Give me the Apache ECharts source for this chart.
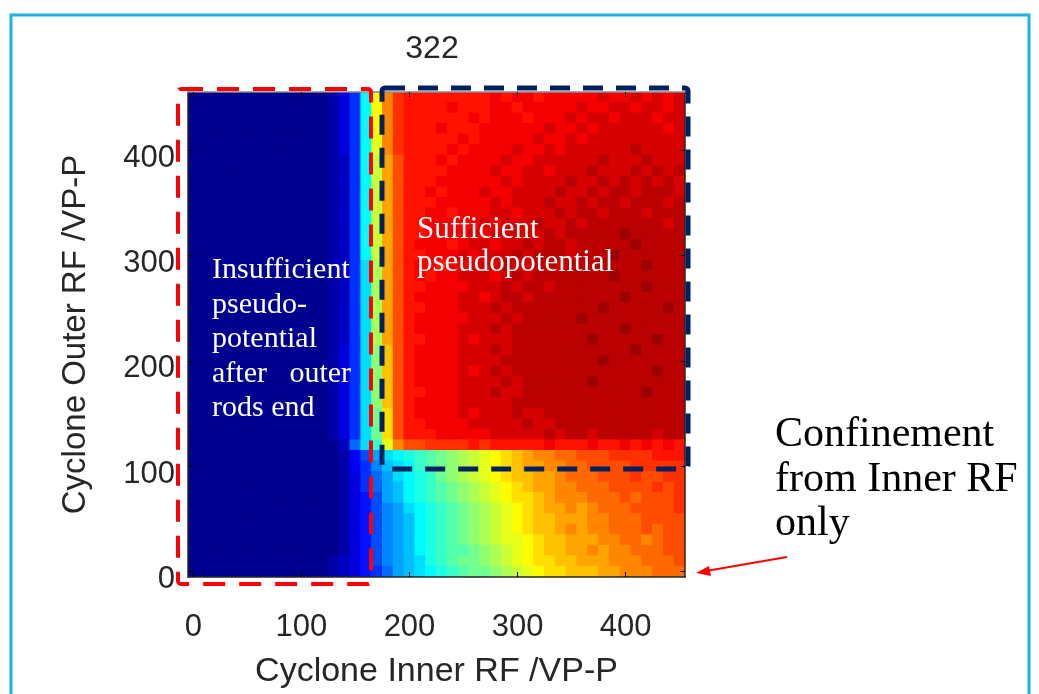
<!DOCTYPE html>
<html>
<head>
<meta charset="utf-8">
<script src="https://cdn.jsdelivr.net/npm/echarts@6/dist/echarts.min.js"></script>
<style>
  html, body { margin: 0; padding: 0; background: #fff; }
  #chart { width: 1039px; height: 694px; }
</style>
</head>
<body>
<div id="chart"></div>
<script>
// axis categories (cell centres, 10 V steps)
const xCats = ['0','10','20','30','40','50','60','70','80','90','100','110','120','130','140','150','160','170','180','190','200','210','220','230','240','250','260','270','280','290','300','310','320','330','340','350','360','370','380','390','400','410','420','430','440','450'];
const yCats = ['0','10','20','30','40','50','60','70','80','90','100','110','120','130','140','150','160','170','180','190','200','210','220','230','240','250','260','270','280','290','300','310','320','330','340','350','360','370','380','390','400','410','420','430','440','450'];
const xTickLabels = ['0', '100', '200', '300', '400'];
const yTickLabels = ['0', '100', '200', '300', '400'];

// read-off colour levels, one char per cell, base 36 (0 = min .. z = max)
// first string = top row (outer 450), last = bottom row (outer 0)
const gridRows = [
  '0000000000000136dmqtuuuuuuuuvuvvuvvvvvwvvwvwvw',
  '0000000000000136dmqtuuuuvuuuvvuvvvvvwvvwwvwwvw',
  '0000000000000136dmqtuuuuuuvuvvvuvvvwvwwvwwwvww',
  '0000000000000136dmqtuuuvuuuvvvvvvwvvwvwwwwwwvw',
  '0000000000000136dlqtuuuuuvuvvvvvwvvwvwwwwwwwww',
  '0000000000000136dlqtuuuuvuvvvvwvvwvwwwwwwxwwww',
  '0000000000000126dkpsuuuvuvvvvwvvwwwwwwxwwwxwww',
  '0000000000000126dkpsuuuuvvvvwvvwwvwwwxwwwxwxwx',
  '0000000000000126dkpsuuuvvvvvvwvwwwwxwwxwxwxwxw',
  '0000000000000126dkpsuuvuvvvwvvwwwwxwwxwxxwxxxw',
  '0000000000000126dkpsuuuvvvvvwvwwwxwwxwxxwxxxwx',
  '0000000000000126dkpsuuvvuvvvwwvwwwxwxxwxxxwxxx',
  '0000000000000126dkpsuuvvvvvwvwwwxwwxwxxxxxxxwx',
  '0000000000000126dkpsuuvvvvwvwwwwwxwxxxxxyxxxxx',
  '0000000000000126dkpsuvvvuvwwvwwxwxxwxxxxxyxxxx',
  '0000000000000126dkpsuuvvvwvwwwxwxxxwxxxyxxxxxx',
  '0000000000000126cjpsuvvuvvwwwxwwxxwxxxxxxxyxxx',
  '0000000000000126cjpsuvuvvwwwvwxwxxxxxxxyxxxxxx',
  '0000000000000126cjpsuuvvvvwwwxwxxwxxxxxxxxyxxx',
  '0000000000000126cjpsuvvvvwwvwxxwxxxxxxxxyxxxxx',
  '0000000000000126cjpsuuvvvwwwxwxxxxxxxxyxxxxxyx',
  '0000000000000126cjpsuvvvvvwwwxwxxxxxyxxxxxxxxx',
  '0000000000000126cjpsuvvvvwwwxwxxxxxxxxxxyxxxxx',
  '0000000000000126cjpsuuvvvwvwwwxxxxxxxyxxxxxyxx',
  '0000000000000136ciosuvvvvwwwxwxxxxxxxxxxxyxxxx',
  '0000000000000136ciosuvvvvwwwwxxxxxxxxxyxxxxxxx',
  '0000000000000136ciosuvvvvwvwxwxxxxxxxxxxxxxyxx',
  '0000000000000136ciosuvvvvwwwwxwxxxxxxyxxxxxxxx',
  '0000000000000136ciosuuvvvwwwxwwxxxxxxxxxxxyxxx',
  '0000000000000136ciosuvvvvwwwwwxxxxxxxxxxxxxxxx',
  '0000000000000136chnsuvvvvwvwwwxwwxxxxxxxxxxxxx',
  '0000000000000136chnsuuvvvvwwwwwxwwxxxxxxxxxxxx',
  '0000000000000136chnsuuuvvvvvwwwwwxwxxwxxxxxwxx',
  '0000000000000028cflqssttttutuuuuuvuuuvuuvuvuvu',
  '00000000000000147acdefghijklmnopqqrrsssttttuuu',
  '000000000000001469bcdfghijklmnoppqqrrssssttttt',
  '000000000000001368acdefhijklmnooppqrrrssstsstt',
  '000000000000001368abdefghijklmnoppqqrrrsssstst',
  '000000000000001357abdefghijklmnnopqqqrrrsrssst',
  '0000000000000013579acdefghijklmnoppqpqrrrsssst',
  '0000000000000013579abdefghijklmnoopppqqrrrssss',
  '0000000000000013579abdefghijklmnoopqpqqrrrsrss',
  '0000000000000013579abdefghijkllmnoopppqqrrqrss',
  '0000000000000013579abdefgghijklmnooppqpqqrrrss',
  '0000000000000123579abcefghhijklmnnoopppqqqrrrs',
  '0000000000000123568abcdefghhijklmnnoooppqqqrrr'
];

// jet colormap stops
const jet = ['#00008f', '#0000ff', '#0080ff', '#00ffff', '#80ff80', '#ffff00', '#ff8000', '#ff0000', '#800000'];

const cells = [];
gridRows.forEach((row, r) => {
  if (row.length !== xCats.length) throw new Error('row ' + r + ' has ' + row.length + ' cells');
  const yi = gridRows.length - 1 - r;
  for (let xi = 0; xi < row.length; xi++) {
    cells.push([xi, yi, parseInt(row[xi], 36)]);
  }
});

const sans = '"Liberation Sans", Arial, sans-serif';
const serif = '"Liberation Serif", "Times New Roman", serif';
const frame = { color: '#262626', width: 1.5 };
const isXTick = (i, v) => xTickLabels.includes(v);
const isYTick = (i, v) => yTickLabels.includes(v);

// one rect per cell, grown by half a pixel so neighbours leave no seams
function renderCell(params, api) {
  const c = api.coord([api.value(0), api.value(1)]);
  const s = api.size([1, 1]);
  return {
    type: 'rect',
    shape: { x: c[0] - s[0] / 2 - 0.5, y: c[1] - s[1] / 2 - 0.5, width: s[0] + 1, height: s[1] + 1 },
    style: { fill: api.visual('color') }
  };
}

const chart = echarts.init(document.getElementById('chart'));
chart.setOption({
  animation: false,
  backgroundColor: '#fff',
  grid: { left: 188, top: 92, width: 497, height: 485 },
  visualMap: {
    type: 'continuous', show: false, min: 0, max: 35, dimension: 2, seriesIndex: 0,
    inRange: { color: jet }
  },
  xAxis: [
    {
      type: 'category', data: xCats, position: 'bottom', z: 10,
      axisLine: { show: true, lineStyle: frame },
      axisTick: { show: true, inside: true, length: 5, interval: isXTick, alignWithLabel: true, lineStyle: { color: '#000' } },
      axisLabel: { interval: isXTick, margin: 35, fontSize: 31, fontFamily: sans, color: '#262626' },
      splitLine: { show: false },
      name: 'Cyclone Inner RF /VP-P', nameLocation: 'middle', nameGap: 78,
      nameTextStyle: { fontSize: 34, fontFamily: sans, color: '#262626' }
    },
    {
      type: 'category', data: xCats, position: 'top', z: 10,
      axisLine: { show: true, lineStyle: { color: '#8c8c8c', width: 1.5 } },
      axisTick: { show: true, inside: true, length: 5, interval: isXTick, alignWithLabel: true, lineStyle: { color: '#000' } },
      axisLabel: { show: false }, splitLine: { show: false }
    }
  ],
  yAxis: [
    {
      type: 'category', data: yCats, position: 'left', z: 10,
      axisLine: { show: true, lineStyle: frame },
      axisTick: { show: true, inside: true, length: 5, interval: isYTick, alignWithLabel: true, lineStyle: { color: '#000' } },
      axisLabel: { interval: isYTick, margin: 13, verticalAlign: 'top', lineHeight: 16, fontSize: 31, fontFamily: sans, color: '#262626' },
      splitLine: { show: false },
      name: 'Cyclone Outer RF /VP-P', nameLocation: 'middle', nameGap: 96, nameRotate: 90,
      nameTextStyle: { fontSize: 33, fontFamily: sans, color: '#262626' }
    },
    {
      type: 'category', data: yCats, position: 'right', z: 10,
      axisLine: { show: true, lineStyle: frame },
      axisTick: { show: true, inside: true, length: 5, interval: isYTick, alignWithLabel: true, lineStyle: { color: '#000' } },
      axisLabel: { show: false }, splitLine: { show: false }
    }
  ],
  series: [{
    type: 'custom', xAxisIndex: 0, yAxisIndex: 0, data: cells,
    encode: { x: 0, y: 1 }, renderItem: renderCell, clip: true, silent: true
  }],
  graphic: [
    { type: 'rect', silent: true, z: 0, shape: { x: 11, y: 15, width: 1018, height: 720 },
      style: { fill: 'none', stroke: '#1cb2e4', lineWidth: 3 } },
    { type: 'text', silent: true, x: 432, y: 49,
      style: { text: '322', fontSize: 32, fontFamily: sans, fill: '#262626', align: 'center', verticalAlign: 'middle' } },
    { type: 'rect', silent: true, z: 100, shape: { x: 178, y: 89, width: 193, height: 495, r: 3 },
      style: { fill: 'none', stroke: '#ff0000', lineWidth: 4, lineDash: [22, 14] } },
    { type: 'rect', silent: true, z: 101, shape: { x: 382, y: 88, width: 306, height: 381, r: 3 },
      style: { fill: 'none', stroke: '#002060', lineWidth: 5, lineDash: [20, 13] } },
    { type: 'text', silent: true, z: 102, x: 212, y: 253,
      style: { text: 'Insufficient\npseudo-\npotential\nafter   outer\nrods end', fontSize: 30, fontFamily: serif, fill: '#fff', lineHeight: 34.5 } },
    { type: 'text', silent: true, z: 102, x: 417, y: 213,
      style: { text: 'Sufficient\npseudopotential', fontSize: 31, fontFamily: serif, fill: '#fff', lineHeight: 33 } },
    { type: 'text', silent: true, z: 102, x: 775, y: 413,
      style: { text: 'Confinement\nfrom Inner RF\nonly', fontSize: 42, fontFamily: serif, fill: '#000', lineHeight: 44.5 } },
    { type: 'line', silent: true, z: 102, shape: { x1: 787, y1: 557, x2: 706, y2: 571 },
      style: { stroke: '#ff0000', lineWidth: 2 } },
    { type: 'polygon', silent: true, z: 102, shape: { points: [[696, 573], [711, 576], [709, 566]] },
      style: { fill: '#ff0000' } }
  ]
});
</script>
</body>
</html>
